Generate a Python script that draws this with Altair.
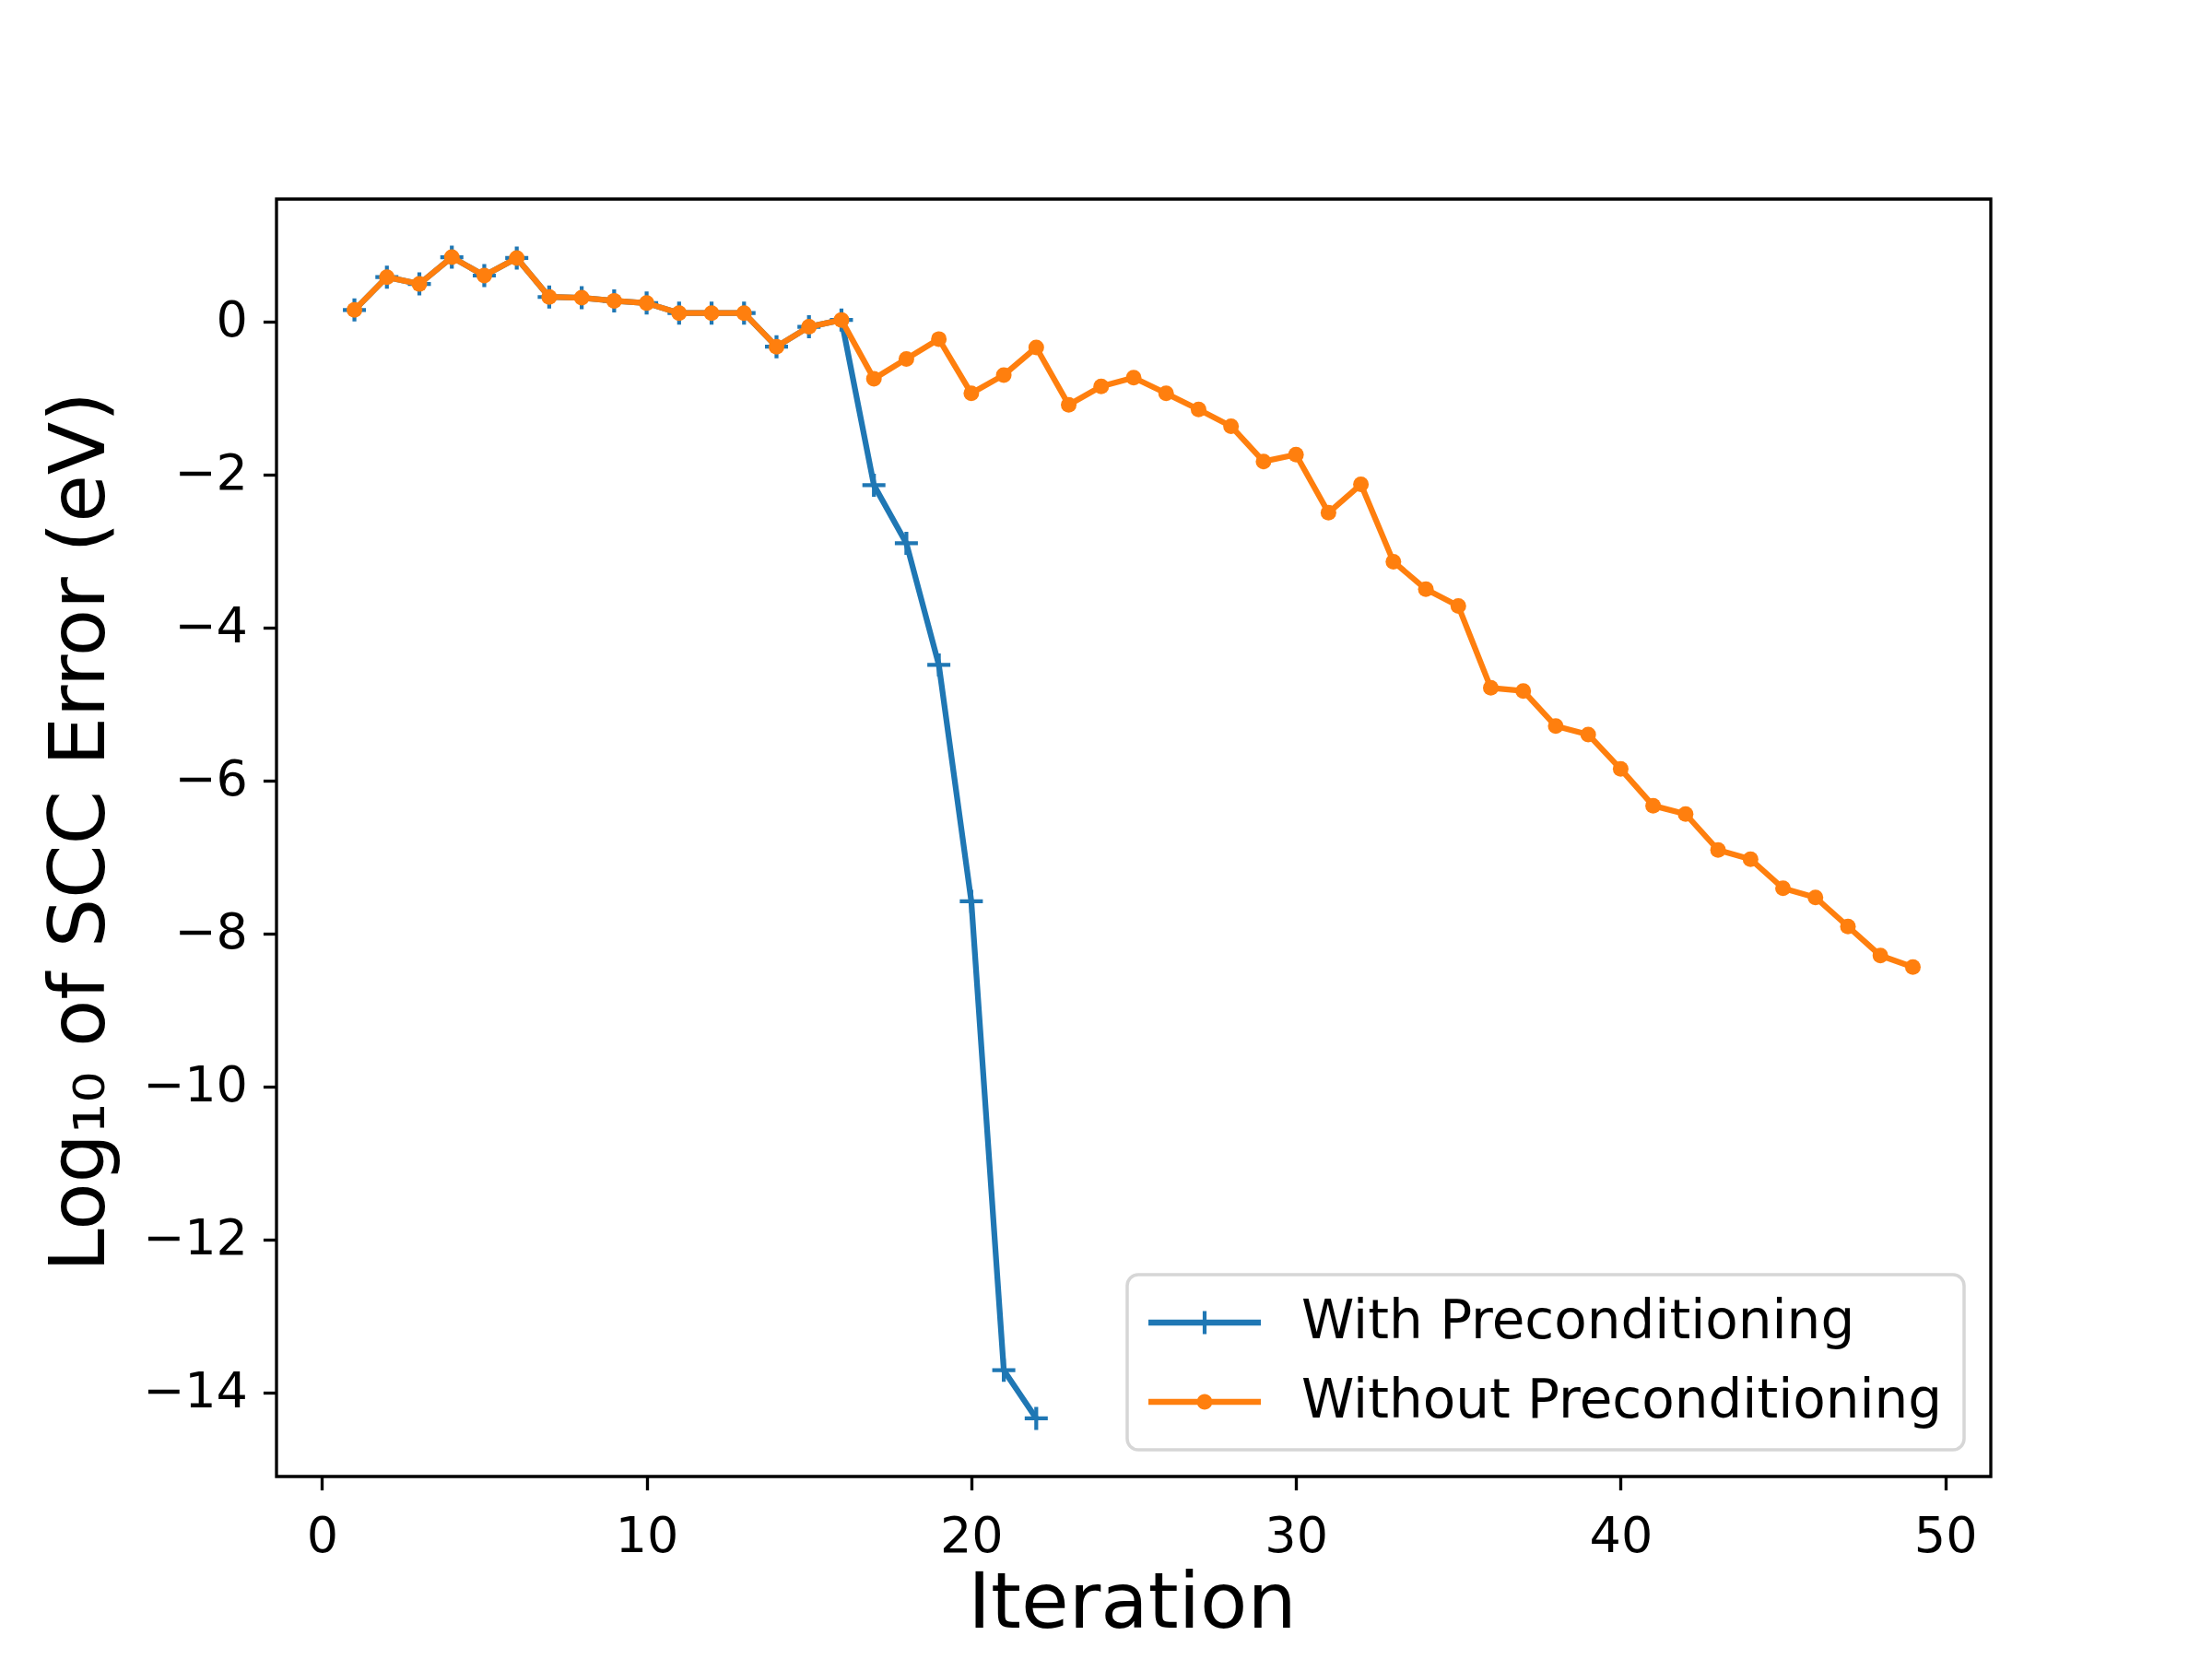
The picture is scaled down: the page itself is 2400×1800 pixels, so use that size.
import altair as alt
import pandas as pd

# ---- data ----
iter_without = list(range(1, 50))
err_without = [0.15, 0.58, 0.49, 0.84, 0.60, 0.83, 0.32, 0.31, 0.27, 0.24,
               0.11, 0.11, 0.11, -0.33, -0.07, 0.02, -0.75, -0.49, -0.23, -0.94,
               -0.70, -0.34, -1.09, -0.85, -0.735, -0.94, -1.15, -1.37, -1.83, -1.74,
               -2.50, -2.13, -3.14, -3.50, -3.72, -4.79, -4.83, -5.29, -5.40, -5.85,
               -6.33, -6.44, -6.91, -7.03, -7.41, -7.53, -7.91, -8.29, -8.44]

iter_with = list(range(1, 23))
err_with = [0.15, 0.58, 0.49, 0.84, 0.60, 0.83, 0.32, 0.31, 0.27, 0.24,
            0.11, 0.11, 0.11, -0.33, -0.07, 0.02, -2.14, -2.90, -4.49, -7.58,
            -13.71, -14.34]

series_names = ["With Preconditioning", "Without Preconditioning"]
series_colors = ["#1f77b4", "#ff7f0e"]
x_ticks = [0, 10, 20, 30, 40, 50]
y_ticks = [0, -2, -4, -6, -8, -10, -12, -14]

df = pd.concat([
    pd.DataFrame({"iteration": iter_with, "error": err_with, "series": series_names[0]}),
    pd.DataFrame({"iteration": iter_without, "error": err_without, "series": series_names[1]}),
], ignore_index=True)

FONT = "DejaVu Sans"

x_enc = alt.X("iteration:Q",
              scale=alt.Scale(domain=[-1.4, 51.4], nice=False, zero=False),
              axis=alt.Axis(values=x_ticks, format="d", title="Iteration",
                            titleX=928, titleY=163, titleBaseline="alphabetic",
                            titleAlign="center", labelPadding=24))
y_enc = alt.Y("error:Q",
              scale=alt.Scale(domain=[-15.1, 1.6], nice=False, zero=False),
              axis=alt.Axis(values=y_ticks, format="d", title="Log₁₀ of SCC Error (eV)",
                            titleAngle=270, titleX=-188, titleY=686,
                            titleBaseline="alphabetic", titleAlign="center",
                            labelPadding=17))

base = alt.Chart(df)

blue = base.transform_filter(alt.datum.series == series_names[0])
orange = base.transform_filter(alt.datum.series == series_names[1])

blue_line = blue.mark_line(color=series_colors[0], strokeWidth=6.25,
                           strokeJoin="round").encode(x=x_enc, y=y_enc)
blue_pts = blue.mark_point(shape="M-1,0L1,0M0,-1L0,1", filled=False,
                           color=series_colors[0], strokeWidth=4.2, size=625,
                           opacity=1).encode(x=x_enc, y=y_enc)
orange_line = orange.mark_line(color=series_colors[1], strokeWidth=6.25,
                               strokeJoin="round").encode(x=x_enc, y=y_enc)
orange_pts = orange.mark_circle(color=series_colors[1], size=289,
                                opacity=1).encode(x=x_enc, y=y_enc)

# legend handles: line with '+' and line with dot
blue_handle = ("M-2.103,-0.115L2.103,-0.115L2.103,0.115L-2.103,0.115Z"
               "M-0.072,-0.431L0.072,-0.431L0.072,0.431L-0.072,0.431Z")
orange_handle = ("M-2.103,-0.115L2.103,-0.115L2.103,0.115L-2.103,0.115Z"
                 "M-0.29,0A0.29,0.29 0 1,1 0.29,0A0.29,0.29 0 1,1 -0.29,0Z")

leg = alt.Legend(title=None, orient="bottom-right", offset=29, padding=23,
                 rowPadding=28, labelFont=FONT, labelFontSize=58,
                 labelColor="black", labelLimit=2000, symbolSize=3364,
                 symbolOffset=32, labelOffset=76, symbolStrokeWidth=0,
                 symbolOpacity=1, strokeColor="#d6d6d6",
                 fillColor="rgba(255,255,255,0.8)", cornerRadius=12)

legend_layer = base.mark_point(filled=True, opacity=0, size=10).encode(
    x=x_enc, y=y_enc,
    shape=alt.Shape("series:N",
                    scale=alt.Scale(domain=series_names, range=[blue_handle, orange_handle]),
                    legend=leg),
    fill=alt.Fill("series:N",
                  scale=alt.Scale(domain=series_names, range=series_colors),
                  legend=leg),
)

chart = alt.layer(blue_line, blue_pts, orange_line, orange_pts, legend_layer).properties(
    width=1860, height=1386,
    autosize=alt.AutoSizeParams(type="none"),
    padding={"left": 292, "top": 208, "right": 232, "bottom": 190},
    background="white",
).configure_view(
    stroke="black", strokeWidth=3.33
).configure_axis(
    grid=False, domain=False, ticks=True, tickSize=14.6, tickWidth=3.33,
    tickColor="black", labelFont=FONT, labelFontSize=54, labelColor="black",
    titleFont=FONT, titleFontSize=84, titleFontWeight="normal", titleColor="black",
).configure_legend(
    strokeWidth=3.5
)

chart.save("out.html", embed_options={"renderer": "svg", "actions": False})
